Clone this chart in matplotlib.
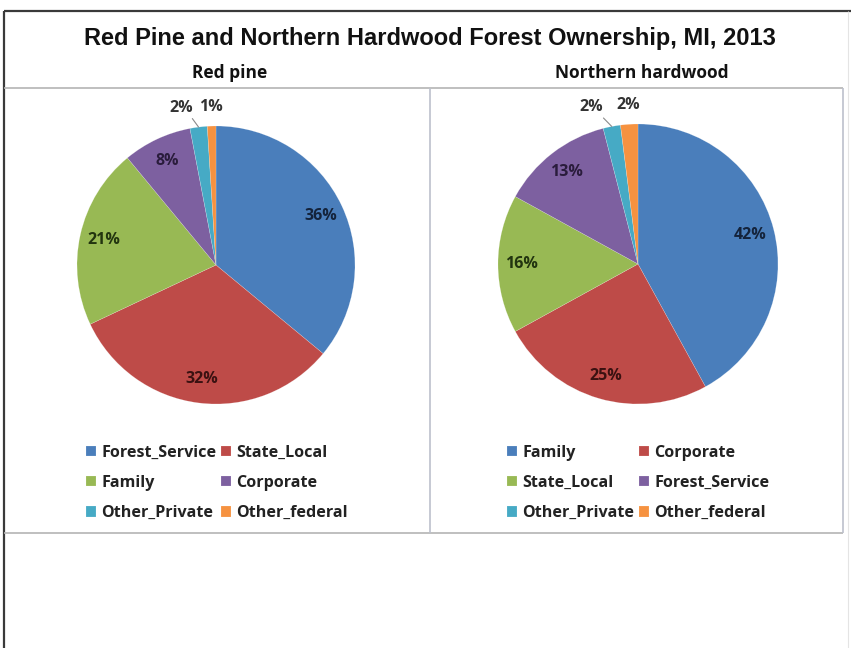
import numpy as np
import matplotlib
matplotlib.use("Agg")
import matplotlib.pyplot as plt
from matplotlib.lines import Line2D

W, H = 851, 648

# Ownership shares (%) by forest type
red_pine_owners = ["Forest_Service", "State_Local", "Family", "Corporate",
                   "Other_Private", "Other_federal"]
red_pine_share = [36, 32, 21, 8, 2, 1]

hardwood_owners = ["Family", "Corporate", "State_Local", "Forest_Service",
                   "Other_Private", "Other_federal"]
hardwood_share = [42, 25, 16, 13, 2, 2]

chart_title = "Red Pine and Northern Hardwood Forest Ownership, MI, 2013"
panel_titles = ["Red pine", "Northern hardwood"]

slice_colors = ["#4a7ebb", "#be4b48", "#98b954", "#7d60a0", "#46aac5", "#f69240"]
label_colors = ["#14233b", "#3a1111", "#22340f", "#2a1c3c", "#333333", "#333333"]

TITLE_FONT = ["Liberation Sans", "DejaVu Sans"]
BODY_FONT = ["Open Sans", "DejaVu Sans"]

fig = plt.figure(figsize=(W / 100, H / 100), dpi=100)
fig.patch.set_facecolor("white")


def fx(px):
    return px / W


def fy(py):
    return 1 - py / H


def hline(y, x0, x1, color, lw):
    fig.add_artist(Line2D([fx(x0), fx(x1)], [fy(y), fy(y)], transform=fig.transFigure,
                          color=color, lw=lw, solid_capstyle="butt"))


def vline(x, y0, y1, color, lw):
    fig.add_artist(Line2D([fx(x), fx(x)], [fy(y0), fy(y1)], transform=fig.transFigure,
                          color=color, lw=lw, solid_capstyle="butt"))


# outer chart frame
hline(11, 4, 851, "#3a3a3a", 1.6)
vline(4, 11, 648, "#3a3a3a", 1.6)
vline(848, 11, 648, "#e4e4e4", 0.8)

# panel grid
hline(88, 4, 843, "#b4b4b4", 1.2)
hline(533, 4, 843, "#b4b4b4", 1.2)
vline(430, 88, 533, "#bcc0cc", 1.2)
vline(843, 88, 533, "#bcc0cc", 1.2)

fig.text(fx(430), fy(38), chart_title, ha="center", va="center",
         fontsize=17, fontweight="bold", family=TITLE_FONT, color="#111111")

PCT_SIZE = 11.5


def draw_pie(cx, cy, r, owners, shares, title, title_x, legend_x, outside_nudge):
    span = 1.25
    size = 2 * span * r
    ax = fig.add_axes([fx(cx - size / 2), fy(cy + size / 2), size / W, size / H])
    wedges, texts, autotexts = ax.pie(
        shares, colors=slice_colors, startangle=90, counterclock=False,
        autopct=lambda p: f"{p:.0f}%", pctdistance=0.83,
        wedgeprops=dict(linewidth=0.3, edgecolor="#ffffff60"),
        textprops=dict(fontsize=PCT_SIZE, fontweight="bold", family=BODY_FONT))
    ax.set_aspect("equal")
    ax.set_xlim(-span, span)
    ax.set_ylim(-span, span)
    ax.axis("off")

    for i, (w, t) in enumerate(zip(wedges, autotexts)):
        t.set_color(label_colors[i])
        if shares[i] > 3:
            continue
        # small slices: label sits outside the rim
        t.set_visible(False)
        ang = np.deg2rad((w.theta1 + w.theta2) / 2)
        edge = (np.cos(ang), np.sin(ang))
        pos = (1.14 * np.cos(ang) + outside_nudge[i - 4], 1.14 * np.sin(ang))
        if outside_nudge[i - 4] != 0:
            ax.annotate(t.get_text(), xy=edge, xytext=pos, ha="center", va="center",
                        fontsize=PCT_SIZE, fontweight="bold", family=BODY_FONT,
                        color=label_colors[i],
                        arrowprops=dict(arrowstyle="-", color="#8a8a8a", lw=0.8,
                                        shrinkA=0, shrinkB=0, relpos=(0.9, 0.0)))
        else:
            ax.text(pos[0], pos[1], t.get_text(), ha="center", va="center",
                    fontsize=PCT_SIZE, fontweight="bold", family=BODY_FONT,
                    color=label_colors[i])

    fig.text(fx(title_x), fy(73), title, ha="center", va="center",
             fontsize=12.5, fontweight="bold", family=BODY_FONT, color="#111111")

    # legend filled row by row
    order = [0, 2, 4, 1, 3, 5]
    leg = fig.legend([wedges[k] for k in order], [owners[k] for k in order],
                     ncol=2, loc="center left",
                     bbox_to_anchor=(fx(legend_x), fy(483)),
                     frameon=False, borderpad=0, borderaxespad=0,
                     handlelength=0.6, handleheight=0.6, handletextpad=0.35,
                     columnspacing=0.3, labelspacing=0.88,
                     prop=dict(family=BODY_FONT, weight="bold", size=11.6))
    for txt in leg.get_texts():
        txt.set_color("#222222")
    return ax


draw_pie(216, 265, 139, red_pine_owners, red_pine_share, panel_titles[0], 230, 86,
         outside_nudge=[-0.11, 0.0])
draw_pie(638, 264, 140, hardwood_owners, hardwood_share, panel_titles[1], 642, 507,
         outside_nudge=[-0.12, 0.0])

fig.savefig("out.png", dpi=100, facecolor="white")
